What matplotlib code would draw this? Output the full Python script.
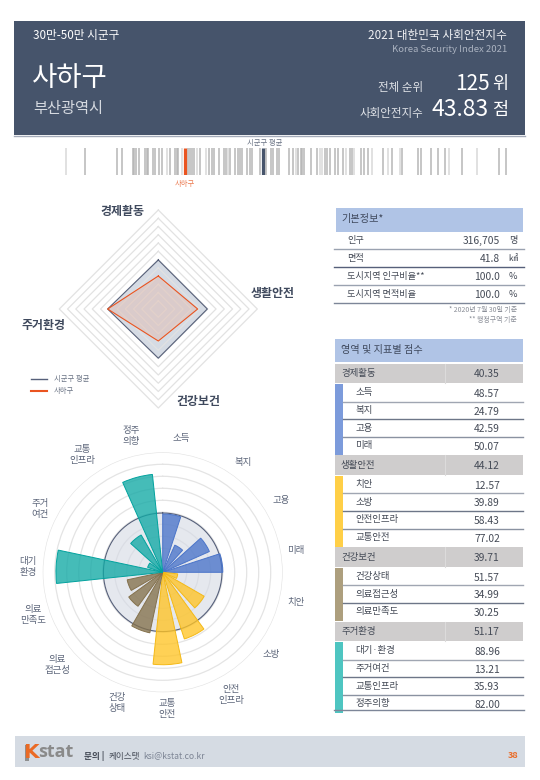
import numpy as np
import matplotlib
matplotlib.use("Agg")
import matplotlib.pyplot as plt
from matplotlib.patches import Rectangle

plt.rcParams['font.family'] = ['Noto Sans CJK KR', 'DejaVu Sans']

# ---------- data ----------
strip_dark = [33.81,37.01,37.51,38.55,38.68,38.88,39.21,39.78,39.95,40.11,40.55,40.81,41.21,41.51,42.25,42.78,42.95,43.11,
              44.11,44.28,44.51,44.71,45.31,46.18,46.48,46.68,47.15,47.68,47.85,48.28,48.78,49.08,49.28,49.48,49.98,50.25,
              50.48,51.28,51.88,52.35,52.61,52.95,53.18,54.18,54.61,55.11,55.35,55.48,55.68,56.38,56.95,57.78,58.01,58.28,
              58.78,59.05,59.55,60.28,60.48,61.41,61.71,62.05,63.61,64.51,65.51,67.11,67.41,68.41,69.11,69.75,71.51,75.21,75.88]
strip_light = [31.85,41.98,43.45,44.95,45.85,48.11,54.88,57.28,57.51,59.88,60.68,62.45,64.08,65.28,70.15,72.95]
strip_local = 43.83
strip_avg = 51.61

domains = ['경제활동', '생활안전', '건강보건', '주거환경']
domain_scores = [40.35, 44.12, 39.71, 51.17]
radar_local = [40.0, 47.7, 38.8, 61.4]
radar_avg = [59.4, 59.4, 59.6, 61.4]
avg_ring = 49.4

econ_names = ['소득', '복지', '고용', '미래']
econ_vals = [48.57, 24.79, 42.59, 50.07]
life_names = ['치안', '소방', '안전인프라', '교통안전']
life_vals = [12.57, 39.89, 58.43, 77.02]
health_names = ['건강상태', '의료접근성', '의료만족도']
health_vals = [51.57, 34.99, 30.25]
house_names = ['대기·환경', '주거여건', '교통인프라', '정주의향']
house_vals = [88.96, 13.21, 35.93, 82.00]

rose_labels = ['소득', '복지', '고용', '미래', '치안', '소방', '안전\n인프라', '교통\n안전', '건강\n상태',
               '의료\n접근성', '의료\n만족도', '대기\n환경', '주거\n여건', '교통\n인프라', '정주\n의향']

info_names = ['인구', '면적', '도시지역 인구비율**', '도시지역 면적비율']
info_vals = ['316,705', '41.8', '100.0', '100.0']
info_units = ['명', '㎢', '%', '%']

NAVY = '#46546b'
ORANGE = '#ea5420'
W, H = 540, 780
fig = plt.figure(figsize=(W/100, H/100), dpi=100, facecolor='white')

def axpx(x0, y0, x1, y1, **kw):
    return fig.add_axes([x0/W, 1-y1/H, (x1-x0)/W, (y1-y0)/H], **kw)

# overlay for layout
ov = axpx(0, 0, W, H)
ov.set_xlim(0, W); ov.set_ylim(H, 0); ov.axis('off')

def box(x0, y0, x1, y1, c, **kw):
    ov.add_patch(Rectangle((x0, y0), x1-x0, y1-y0, fc=c, ec='none', **kw))

def txt(x, y, s, size, c='#444a56', ha='left', va='center', **kw):
    ov.text(x, y, s, fontsize=size, color=c, ha=ha, va=va, **kw)

# header
box(14, 21, 525, 135, NAVY)
ov.plot([14, 525], [135.5, 135.5], color='#a4abb9', lw=1)
txt(33, 36, '30만-50만 시군구', 8.4, 'white')
txt(32, 78, '사하구', 19.8, 'white', fontweight='medium')
txt(33, 109, '부산광역시', 11, '#d5d9e0')
txt(507, 36, '2021 대한민국 사회안전지수', 8.4, '#f0f1f4', ha='right')
txt(507, 50, 'Korea Security Index 2021', 6.9, '#aab2c0', ha='right')
txt(423, 87, '전체 순위', 8.3, '#dfe2e7', ha='right')
txt(423, 113, '사회안전지수', 8.3, '#dfe2e7', ha='right')
txt(490, 84, '125', 15, 'white', ha='right', fontweight='medium')
txt(508, 84, '위', 12.5, 'white', ha='right')
txt(489, 110, '43.83', 16.5, 'white', ha='right', fontweight='medium')
txt(508, 110, '점', 12.5, 'white', ha='right')

# strip
st = axpx(60, 148, 510, 174.5)
st.set_xlim(31.28, 76.28); st.set_ylim(0, 1); st.axis('off')
st.vlines(strip_light, 0, 1, color='#c8c8c8', lw=1.3, alpha=0.6)
st.vlines(strip_dark, 0, 1, color='#b4b4b4', lw=1.25, alpha=0.85)
st.vlines([strip_local], 0, 1, color=ORANGE, lw=2.3)
st.vlines([strip_avg], 0, 1, color=NAVY, lw=2.3)
txt(265, 143, '시군구 평균', 5.3, '#6b7485', ha='center')
txt(185, 184, '사하구', 5.3, '#ec7a50', ha='center')

# radar
rcx, rcy, rR = 158.3, 309, 99
ra = axpx(rcx-rR, rcy-rR, rcx+rR, rcy+rR, projection='polar')
ra.set_theta_zero_location('N'); ra.set_theta_direction(-1)
ra.set_ylim(0, 120); ra.axis('off'); ra.patch.set_alpha(0)
th = np.deg2rad([0, 90, 180, 270, 0])
for ring in range(10, 121, 10):
    ra.plot(th, [ring]*5, color='#e2e2e2', lw=0.9, zorder=3, clip_on=False)
ra.fill(th, radar_avg + radar_avg[:1], color='#ced5e0', alpha=0.85, lw=0, zorder=2)
ra.plot(th, radar_avg + radar_avg[:1], color='#56607a', lw=0.8, zorder=4)
ra.fill(th, radar_local + radar_local[:1], color='#e8a58c', alpha=0.28, lw=0, zorder=3)
ra.plot(th, radar_local + radar_local[:1], color=ORANGE, lw=0.8, zorder=5)
radar_pos = [(122, 211), (273, 294), (198, 402), (44, 326)]
for name, (x, y) in zip(domains, radar_pos):
    txt(x, y, name, 8.6, '#3f495d', ha='center', fontweight='bold')
ov.plot([31, 47], [379, 379], color='#56607a', lw=1)
ov.plot([31, 47], [391, 391], color=ORANGE, lw=1.5)
txt(54, 379, '시군구 평균', 5.3, '#6b7485')
txt(54, 391, '사하구', 5.3, '#6b7485')

# rose
cx, cy, R = 162.7, 572.3, 120
ro = axpx(cx-R, cy-R, cx+R, cy+R, projection='polar')
ro.set_theta_zero_location('N'); ro.set_theta_direction(-1)
ro.set_ylim(0, 100); ro.patch.set_alpha(0)
ro.spines['polar'].set_visible(False)
ro.set_xticks([]); ro.set_yticks(np.arange(10, 101, 10)); ro.set_yticklabels([])
ro.tick_params(length=0)
ro.grid(True, color='#e4e4e4', lw=0.9)
ro.set_axisbelow(True)
circ = np.linspace(0, 2*np.pi, 361)
ro.fill_between(circ, 0, avg_ring, color='#d4d9e4', alpha=0.6, lw=0, zorder=1)
ro.plot(circ, [avg_ring]*361, color='#56607a', lw=0.8, zorder=2)
groups = [(econ_vals, '#4a74c9', '#4a74c9'), (life_vals, '#ffc425', '#f4b916'),
          (health_vals, '#84714c', '#84714c'), (house_vals, '#11a9a5', '#02a29e')]
i = 0
step, wid = np.deg2rad(24), np.deg2rad(18)
for vals, c, e in groups:
    for v in vals:
        ro.bar(i*step + wid/2, v, width=wid, color=c, alpha=0.78, lw=0, zorder=3)
        ro.bar(i*step + wid/2, v, width=wid, fc='none', ec=e, lw=0.7, zorder=4)
        i += 1
rose_label_pos = [(181, 438), (243, 462), (281, 501), (296, 551), (296, 602), (271, 654), (231, 695), (167, 709),
                  (117, 703), (57, 665), (33, 615), (28, 567), (40, 509), (82, 455), (131, 436)]
for s, (x, y) in zip(rose_labels, rose_label_pos):
    txt(x, y, s, 6.8, '#5d667a', ha='center', linespacing=1.15)

# info table
X0, X1 = 335, 523
box(336, 208, X1, 232, '#b0c4e6')
txt(341, 219, '기본정보*', 7.3, '#3f495d')
ys = [249, 267, 285, 303]
for name, val, unit, y, lc in zip(info_names, info_vals, info_units, ys, ['#9aa2b0', '#56607a', '#9aa2b0', '#7d8698']):
    txt(347, y-8.5, name, 6.6, '#444a56')
    txt(500, y-8.5, val, 7.4, '#444a56', ha='right')
    txt(513, y-8.5, unit, 6.6, '#444a56', ha='center')
    ov.plot([334, 524], [y, y], color=lc, lw=1)
txt(517, 310, '* 2020년 7월 30일 기준', 5, '#8b8f98', ha='right')
txt(517, 320, '** 행정구역 기준', 5, '#8b8f98', ha='right')

# score table
box(335, 339, X1, 362, '#b0c4e6')
txt(341, 350, '영역 및 지표별 점수', 7.3, '#3f495d')
sections = [(econ_names, econ_vals, '#7c9bdb'), (life_names, life_vals, '#ffcf47'),
            (health_names, health_vals, '#ad9f7e'), (house_names, house_vals, '#4ec5c1')]
y = 363.5
rowh, grph = 17.7, 19.5
line_cols = ['#a0a6b2', '#6d7688', '#8a92a1', '#56607a']
for dom, sc, (names, vals, c) in zip(domains, domain_scores, sections):
    box(335, y, X1, y+grph, '#cfcdcd')
    ov.plot([444.5, 444.5], [y, y+grph], color='#dcdbdb', lw=0.8)
    txt(341, y+grph/2+0.3, dom, 6.8, '#444a56')
    txt(487, y+grph/2+1, f'{sc:.2f}', 7.4, '#444a56', ha='center')
    y += grph + 0.8
    top = y
    for k, (n, v) in enumerate(zip(names, vals)):
        txt(355, y+rowh/2, n, 6.8, '#444a56')
        txt(487, y+rowh/2+1.2, f'{v:.2f}', 7.4, '#444a56', ha='center')
        y += rowh
        if k < len(names)-1:
            ov.plot([343, X1], [y, y], color=line_cols[k % 4], lw=1)
    box(335, top, 343, y, c)
    y += 0.8
ov.plot([334, 524], [709.5, 709.5], color='#7d8698', lw=1)

# footer
box(15, 736, 525, 767, '#d5dbe3')
txt(23.5, 752.5, 'K', 14.5, '#ea6a25', fontweight='bold', family='DejaVu Sans')
box(24.5, 745, 29, 761, '#8f8f8f')
txt(38, 752, 'stat', 13, '#8a8a8a', fontweight='bold', family='Open Sans')
txt(84, 756, '문의 |', 6.2, '#444a56', fontweight='bold')
txt(109, 756, '케이스탯', 6.2, '#444a56')
txt(143, 756, 'ksi@kstat.co.kr', 6.2, '#7c8494')
txt(518, 756, '38', 6.5, '#ea6a25', ha='right', fontweight='bold')

fig.savefig('out.png', dpi=100)
